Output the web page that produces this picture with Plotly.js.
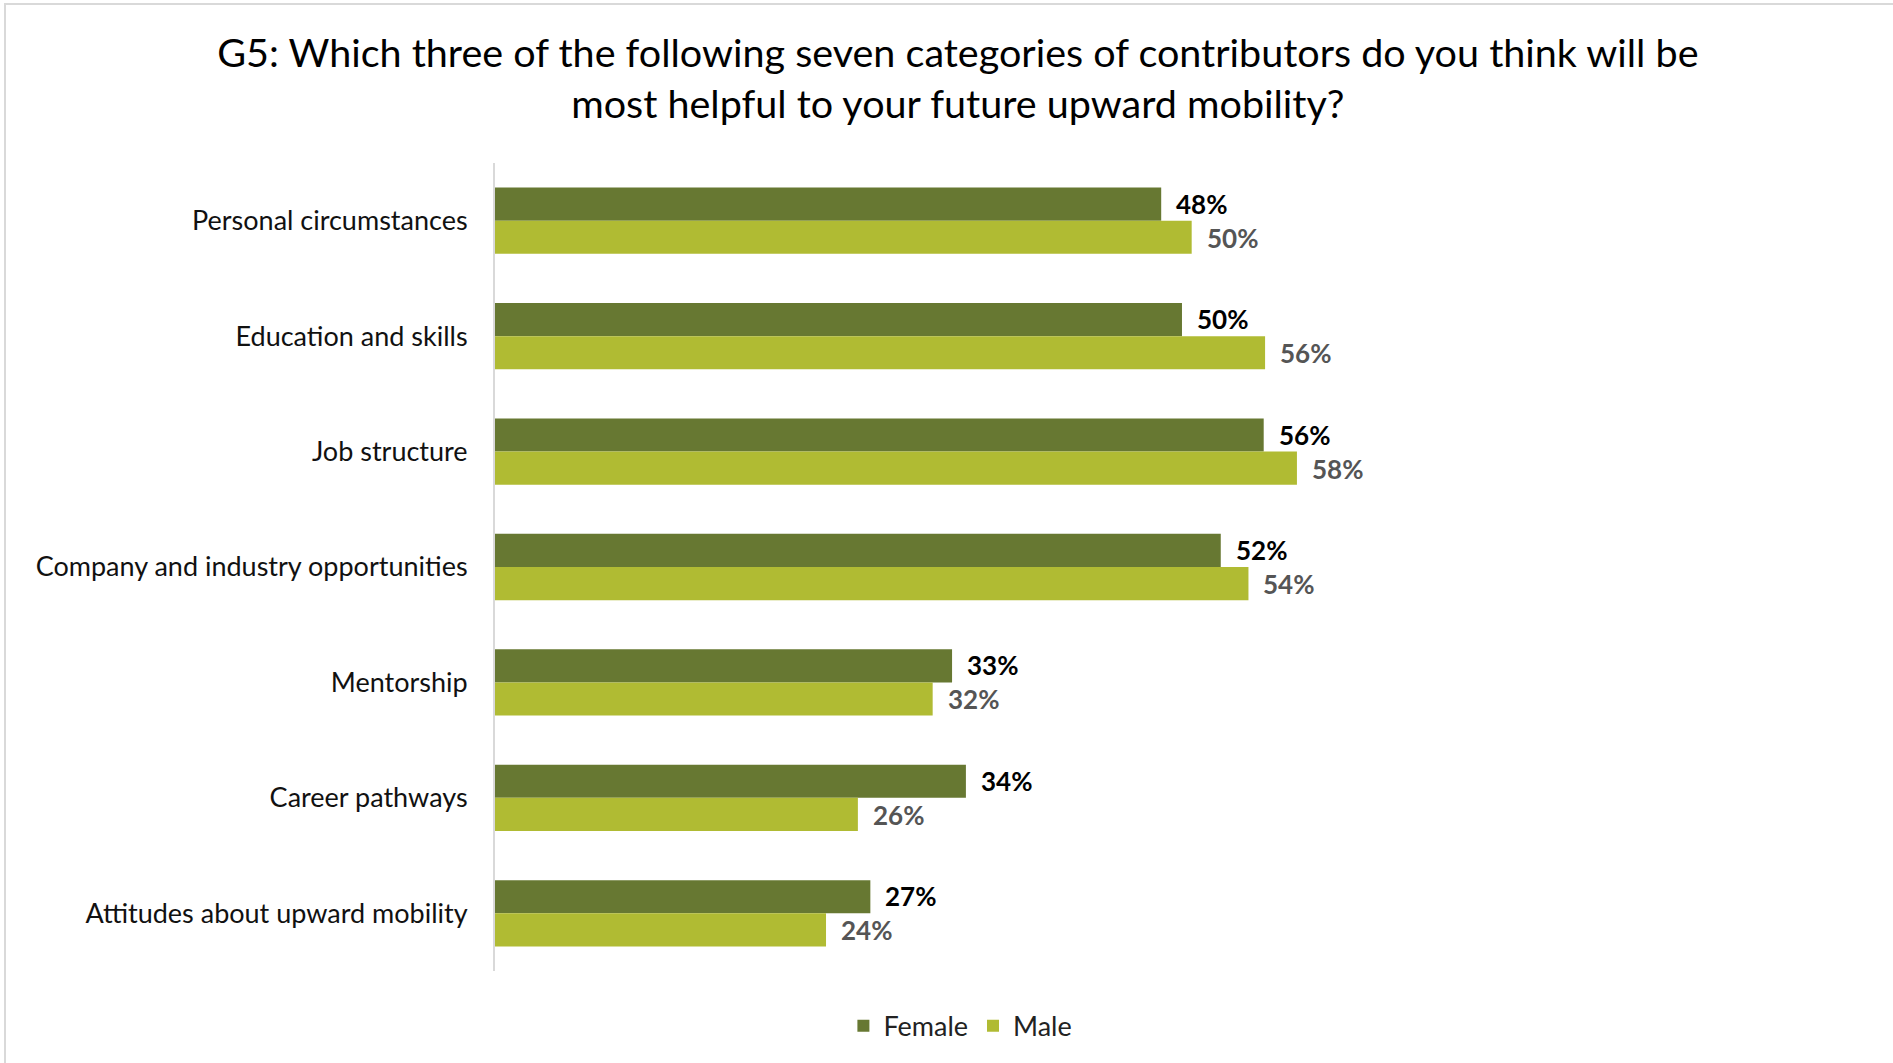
<!DOCTYPE html>
<html>
<head>
<meta charset="utf-8">
<script src="https://cdn.plot.ly/plotly-3.0.1.min.js"></script>
<style>
html, body { margin:0; padding:0; background:#fff; overflow:hidden; }
#frame { position:absolute; left:4px; top:3px; width:3000px; height:3000px; border:2px solid #d9d9d9; box-sizing:border-box; }
#chart { position:absolute; left:0; top:0; width:1893px; height:1063px; }
</style>
</head>
<body>
<div id="frame"></div>
<div id="chart"></div>
<script>
var categories = ["Personal circumstances", "Education and skills", "Job structure", "Company and industry opportunities", "Mentorship", "Career pathways", "Attitudes about upward mobility"];
var female = [48.1, 49.6, 55.5, 52.4, 33.0, 34.0, 27.1];
var male = [50.3, 55.6, 57.9, 54.4, 31.6, 26.2, 23.9];
var femaleLabels = ["48%", "50%", "56%", "52%", "33%", "34%", "27%"];
var maleLabels = ["50%", "56%", "58%", "54%", "32%", "26%", "24%"];
var seriesNames = ["Female", "Male"];
var titleLine1 = "G5: Which three of the following seven categories of contributors do you think will be";
var titleLine2 = "most helpful to your future upward mobility?";

var FONT = "Lato, 'Noto Sans', sans-serif";
var cFemale = "#677832";
var cMale = "#b0bb33";

var traces = [
  {type:"bar", orientation:"h", name:seriesNames[0], y:categories, x:female, marker:{color:cFemale}, hoverinfo:"x"},
  {type:"bar", orientation:"h", name:seriesNames[1], y:categories, x:male, marker:{color:cMale}, hoverinfo:"x"}
];

var ann = [];
for (var i = 0; i < categories.length; i++) {
  ann.push({x:female[i], y:categories[i], xref:"x", yref:"y", text:"<b>"+femaleLabels[i]+"</b>", showarrow:false, xanchor:"left", xshift:13, yshift:17, font:{family:FONT, size:26, color:"#000"}});
  ann.push({x:male[i], y:categories[i], xref:"x", yref:"y", text:"<b>"+maleLabels[i]+"</b>", showarrow:false, xanchor:"left", xshift:13, yshift:-17, font:{family:FONT, size:26, color:"#555"}});
}

var layout = {
  width:1893, height:1063,
  paper_bgcolor:"rgba(0,0,0,0)", plot_bgcolor:"rgba(0,0,0,0)",
  margin:{l:495, r:398, t:163, b:90, pad:0},
  title:{text:titleLine1+"<br>"+titleLine2, x:0.506, xanchor:"center", xref:"container", y:1-67/1063, yanchor:"middle", yref:"container", font:{family:FONT, size:39.5, color:"#000"}},
  barmode:"group", bargap:0.426, bargroupgap:0,
  xaxis:{range:[0,72.2], showgrid:false, zeroline:false, showline:false, showticklabels:false, ticks:"", fixedrange:true},
  yaxis:{autorange:"reversed", showline:true, linecolor:"#d9d9d9", linewidth:2, ticks:"", ticklabelstandoff:20, tickfont:{family:FONT, size:27, color:"#111"}, showgrid:false, zeroline:false},
  showlegend:true,
  legend:{orientation:"h", x:0.4654, xanchor:"center", y:-0.038, yanchor:"top", font:{family:FONT, size:27, color:"#222"}, itemwidth:30, traceorder:"normal"},
  annotations:ann
};

Plotly.newPlot("chart", traces, layout, {displayModeBar:false, staticPlot:true});
</script>
</body>
</html>
